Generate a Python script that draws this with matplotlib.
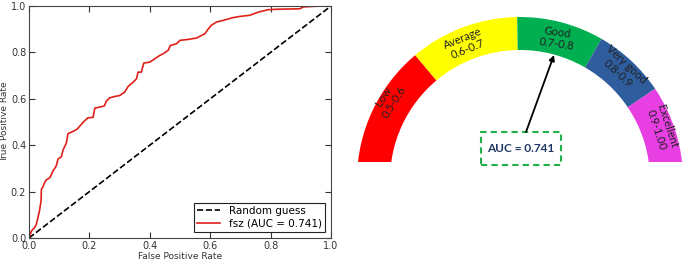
import matplotlib
matplotlib.use('Agg')
import matplotlib.pyplot as plt
from matplotlib.patches import Wedge, Rectangle

# ROC curve
fpr = [0.0, 0.008, 0.019, 0.024, 0.03, 0.035, 0.04, 0.041, 0.046, 0.052, 0.057,
       0.069, 0.08, 0.09, 0.096, 0.107, 0.113, 0.124, 0.129, 0.14, 0.151, 0.16,
       0.17, 0.18, 0.195, 0.212, 0.218, 0.234, 0.25, 0.256, 0.267, 0.284, 0.3,
       0.317, 0.328, 0.345, 0.356, 0.361, 0.372, 0.38, 0.4, 0.417, 0.433, 0.444,
       0.461, 0.468, 0.488, 0.5, 0.527, 0.555, 0.571, 0.582, 0.593, 0.604, 0.621,
       0.643, 0.676, 0.698, 0.731, 0.76, 0.792, 0.82, 0.897, 0.908, 0.964, 1.0]
tpr = [0.0, 0.03, 0.046, 0.058, 0.09, 0.12, 0.16, 0.21, 0.22, 0.24, 0.25,
       0.26, 0.29, 0.31, 0.34, 0.35, 0.38, 0.41, 0.45, 0.456, 0.463, 0.47,
       0.485, 0.5, 0.518, 0.52, 0.56, 0.564, 0.57, 0.59, 0.604, 0.61, 0.614,
       0.629, 0.653, 0.672, 0.686, 0.715, 0.715, 0.754, 0.758, 0.773, 0.787, 0.794,
       0.809, 0.83, 0.837, 0.852, 0.856, 0.862, 0.873, 0.88, 0.9, 0.917, 0.931,
       0.938, 0.95, 0.955, 0.96, 0.974, 0.984, 0.986, 0.988, 0.996, 1.0, 1.0]
auc = 0.741

# gauge bands
band_names = ['Low', 'Average', 'Good', 'Very good', 'Excellent']
band_ranges = ['0.5-0.6', '0.6-0.7', '0.7-0.8', '0.8-0.9', '0.9-1.00']
band_colors = ['#ff0000', '#ffff00', '#00b050', '#2f5c9c', '#e83fe3']
band_edges = [180, 130, 91, 60, 34, 0]  # degrees

fig = plt.figure(figsize=(6.85, 2.62), dpi=100)

# ---- ROC plot
ax = fig.add_axes([29 / 685, 24 / 262, 302 / 685, 232 / 262])
ax.plot([0, 1], [0, 1], 'k--', lw=1.2, label='Random guess')
ax.plot(fpr, tpr, color='#e0201a', lw=1.2, label='fsz (AUC = %.3f)' % auc)
ax.set_xlim(0, 1)
ax.set_ylim(0, 1)
ax.set_xticks([0, 0.2, 0.4, 0.6, 0.8, 1.0])
ax.set_yticks([0, 0.2, 0.4, 0.6, 0.8, 1.0])
ax.tick_params(direction='in', top=True, right=True, length=4, labelsize=7,
               colors='#333333', pad=2)
for s in ax.spines.values():
    s.set_color('#444444')
ax.set_xlabel('False Positive Rate', fontsize=6.5, color='#333333', labelpad=1)
ax.set_ylabel('True Positive Rate', fontsize=6.5, color='#333333', labelpad=1)
leg = ax.legend(loc='lower right', fontsize=7.5, fancybox=False, framealpha=1,
                edgecolor='#222222', handlelength=2.2, borderaxespad=0.6,
                labelspacing=0.25, borderpad=0.3)
leg.get_frame().set_linewidth(0.8)

# ---- gauge, drawn in figure pixel coordinates (y up)
g = fig.add_axes([350 / 685, 0, 335 / 685, 1])
g.set_xlim(350, 685)
g.set_ylim(0, 262)
g.axis('off')
cx, cy = 520, 82
r_out, width = 163, 33
clip = Rectangle((350, 100), 335, 162, transform=g.transData, visible=False)
g.add_patch(clip)
for i, col in enumerate(band_colors):
    w = Wedge((cx, cy), r_out, band_edges[i + 1], band_edges[i], width=width,
              facecolor=col, edgecolor='none')
    g.add_patch(w)
    w.set_clip_path(clip)

label_pos = [(389, 163, 58), (465, 218, 22), (557, 224, -8),
             (622, 193, -43), (662, 134, -72)]
for (x, y, rot), name, rng in zip(label_pos, band_names, band_ranges):
    g.text(x, y, name + '\n' + rng, rotation=rot, rotation_mode='anchor',
           ha='center', va='center', ma='center', fontsize=8,
           family='Lato', color='#222222', linespacing=1.1)

# AUC box and arrow
g.annotate('', xy=(554, 207), xytext=(526, 130),
           arrowprops=dict(arrowstyle='-|>', color='black', lw=1.3,
                           mutation_scale=8, shrinkA=0, shrinkB=0))
box = Rectangle((481, 97), 80, 33, facecolor='white', edgecolor='#22b04b',
                lw=1.5, linestyle=(0, (3, 2)))
g.add_patch(box)
g.text(521, 113.5, 'AUC = %.3f' % auc, ha='center', va='center', fontsize=8.5,
       fontweight='bold', family='Lato', color='#1f3864')

fig.savefig('out.png', dpi=100)
